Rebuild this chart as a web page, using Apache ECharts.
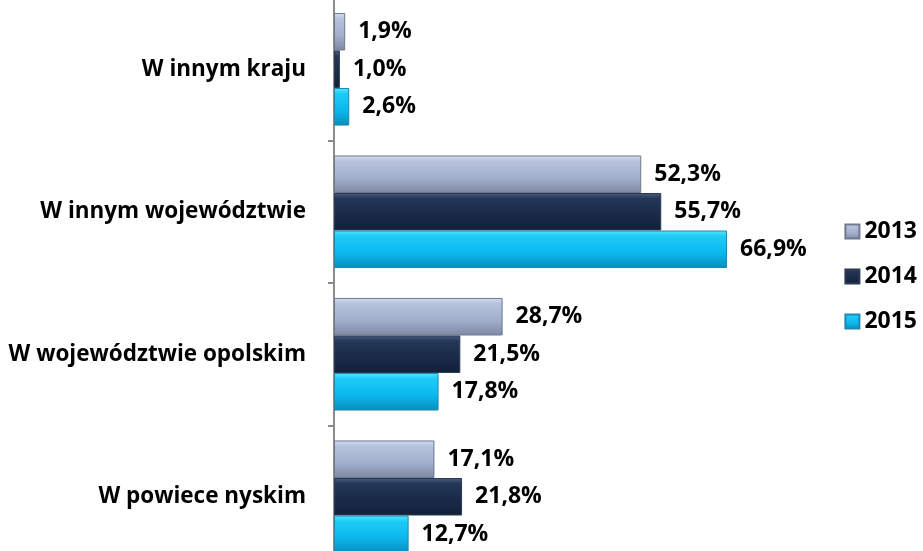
<!DOCTYPE html>
<html>
<head>
<meta charset="utf-8">
<script src="https://cdn.jsdelivr.net/npm/echarts@6/dist/echarts.min.js"></script>
<style>
html,body{margin:0;padding:0;background:#fff;overflow:hidden;width:923px;height:551px;}
#chart{position:absolute;left:0;top:-2px;width:923px;height:570px;}
</style>
</head>
<body>
<div id="chart"></div>
<script>
var categories = ['W innym kraju', 'W innym województwie', 'W województwie opolskim', 'W powiece nyskim'];
var years = ['2013', '2014', '2015'];
var v2013 = [1.9, 52.3, 28.7, 17.1];
var v2014 = [1.0, 55.7, 21.5, 21.8];
var v2015 = [2.6, 66.9, 17.8, 12.7];

var font = 'Open Sans';

function grad(stops) {
    return new echarts.graphic.LinearGradient(0, 0, 0, 1, stops);
}

var colors = [
    grad([{offset:0,color:'#d3dcee'},{offset:0.15,color:'#b7c3dd'},{offset:0.6,color:'#a2afcb'},{offset:1,color:'#7e89a2'}]),
    grad([{offset:0,color:'#4b5e80'},{offset:0.15,color:'#253757'},{offset:0.55,color:'#1a2b49'},{offset:1,color:'#131f37'}]),
    grad([{offset:0,color:'#55e6ff'},{offset:0.15,color:'#1ecbf6'},{offset:0.6,color:'#0bb8ee'},{offset:1,color:'#0a8cbb'}])
];
var borders = ['#6e7a90', '#2c3a55', '#1d88b0'];

function fmt(p) {
    return p.value.toFixed(1).replace('.', ',') + '%';
}

var myChart = echarts.init(document.getElementById('chart'));

var seriesData = [v2013, v2014, v2015];
var series = [];
for (var i = 0; i < years.length; i++) {
    series.push({
        name: years[i],
        type: 'bar',
        data: seriesData[i],
        barGap: '0%',
        barCategoryGap: '21%',
        itemStyle: {
            color: colors[i],
            borderColor: borders[i],
            borderWidth: 1
        },
        label: {
            show: true,
            position: 'right',
            distance: 13,
            formatter: fmt,
            color: '#000',
            fontFamily: font,
            fontWeight: 'bold',
            fontSize: 23
        }
    });
}

option = {
    animation: false,
    legend: {
        orient: 'vertical',
        right: 1,
        top: 217,
        itemGap: 22,
        itemWidth: 14,
        itemHeight: 14,
        icon: 'rect',
        data: years,
        textStyle: {
            color: '#000',
            fontFamily: font,
            fontWeight: 'bold',
            fontSize: 23
        }
    },
    grid: {
        left: 334,
        right: 119,
        top: 0,
        bottom: 0,
        containLabel: false
    },
    xAxis: {
        type: 'value',
        min: 0,
        max: 80,
        show: false
    },
    yAxis: {
        type: 'category',
        inverse: true,
        data: categories,
        axisLine: {show: true, lineStyle: {color: '#8c8c8c', width: 2}},
        axisTick: {show: true, length: 6, lineStyle: {color: '#8c8c8c', width: 2}},
        axisLabel: {
            margin: 28,
            color: '#000',
            fontFamily: font,
            fontWeight: 'bold',
            fontSize: 22.5
        }
    },
    series: series
};

myChart.setOption(option);
</script>
</body>
</html>
